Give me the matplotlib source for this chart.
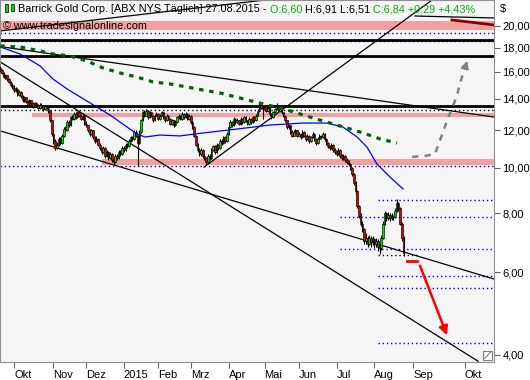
import numpy as np
import matplotlib.pyplot as plt
from matplotlib.patches import Rectangle
from matplotlib.ticker import FixedLocator, NullLocator

plt.rcParams['font.family'] = ['Liberation Sans', 'DejaVu Sans']

# daily bars, one per trading day (index 0 = 19.09.2014)
opens = [
    16.30, 16.10, 15.90, 15.55, 15.70, 15.40, 15.20, 15.00, 14.80, 14.55,
    14.70, 14.30, 14.50, 14.20, 13.90, 14.10, 13.80, 13.60, 13.90, 13.70,
    13.50, 13.70, 13.60, 13.40, 13.60, 13.50, 13.30, 13.50, 13.40, 13.20,
    12.60, 11.80, 11.40, 11.00, 11.20, 11.50, 11.30, 11.70, 12.10, 12.00,
    12.50, 12.30, 12.80, 12.70, 13.00, 12.80, 13.10, 12.90, 12.70, 12.90,
    12.40, 12.30, 12.00, 11.80, 12.00, 11.60, 11.40, 11.50, 11.20, 11.00,
    10.80, 11.00, 10.60, 10.80, 10.50, 10.70, 10.40, 10.30, 10.60, 10.50,
    10.80, 10.70, 11.00, 10.90, 11.20, 11.10, 11.40, 11.60, 11.50, 11.90,
    11.70, 11.30, 11.90, 12.60, 13.10, 12.90, 13.20, 12.80, 13.10, 12.90,
    12.60, 12.90, 13.00, 12.70, 12.90, 13.10, 12.80, 12.60, 12.90, 12.70,
    12.40, 12.60, 12.30, 12.50, 12.80, 12.90, 12.70, 13.00, 12.80, 13.00,
    12.70, 12.90, 12.50, 12.20, 11.70, 11.20, 10.90, 10.70, 10.90, 10.60,
    10.50, 10.30, 10.60, 10.50, 10.90, 11.10, 10.80, 11.20, 11.00, 11.40,
    11.30, 11.60, 11.40, 11.80, 12.20, 12.50, 12.30, 12.70, 12.50, 12.60,
    12.40, 12.70, 12.50, 12.80, 12.60, 12.40, 12.70, 12.50, 12.80, 12.60,
    12.90, 13.20, 13.60, 13.40, 13.30, 13.50, 13.20, 13.40, 13.00, 12.80,
    13.10, 13.30, 13.50, 13.20, 13.40, 13.10, 12.90, 12.60, 12.20, 12.30,
    11.90, 11.70, 11.90, 12.00, 11.70, 11.80, 11.60, 11.90, 11.70, 11.50,
    11.70, 11.40, 11.60, 11.80, 11.50, 11.30, 11.50, 11.70, 11.60, 11.80,
    11.50, 11.30, 11.10, 11.00, 11.20, 10.90, 10.80, 10.70, 10.90, 10.60,
    10.50, 10.60, 10.40, 10.30, 10.20, 10.00, 9.70, 9.30, 8.90, 8.30,
    7.90, 7.60, 7.40, 7.00, 7.10, 6.90, 7.10, 6.95, 7.05, 6.90,
    7.00, 6.80, 6.75, 7.10, 7.60, 8.00, 7.80, 7.95, 7.80, 7.90,
    7.85, 8.10, 8.40, 8.20, 7.60, 7.10,
]
highs = [
    16.45, 16.20, 16.00, 15.85, 15.75, 15.50, 15.30, 15.10, 14.95, 14.85,
    14.75, 14.60, 14.55, 14.30, 14.20, 14.15, 13.90, 14.00, 13.95, 13.80,
    13.80, 13.80, 13.65, 13.70, 13.70, 13.55, 13.60, 13.60, 13.45, 13.25,
    12.65, 11.90, 11.50, 11.35, 11.60, 11.60, 11.80, 12.20, 12.25, 12.60,
    12.60, 12.90, 12.95, 13.15, 13.10, 13.20, 13.20, 13.00, 13.00, 12.95,
    12.55, 12.35, 12.10, 12.10, 12.05, 11.70, 11.65, 11.55, 11.30, 11.05,
    11.10, 11.05, 10.90, 10.85, 10.80, 10.75, 10.50, 10.70, 10.70, 10.90,
    10.90, 11.10, 11.10, 11.30, 11.30, 11.50, 11.70, 11.70, 12.00, 12.00,
    11.75, 12.00, 12.70, 13.20, 13.25, 13.30, 13.25, 13.20, 13.15, 12.95,
    13.00, 13.15, 13.05, 13.00, 13.20, 13.15, 12.85, 13.00, 12.95, 12.75,
    12.70, 12.65, 12.60, 12.90, 13.00, 12.95, 13.10, 13.05, 13.10, 13.05,
    13.00, 12.95, 12.55, 12.25, 11.75, 11.30, 11.00, 11.00, 10.95, 10.70,
    10.55, 10.70, 10.70, 11.00, 11.20, 11.15, 11.30, 11.25, 11.50, 11.50,
    11.70, 11.70, 11.90, 12.30, 12.60, 12.55, 12.80, 12.75, 12.75, 12.65,
    12.80, 12.75, 12.90, 12.85, 12.65, 12.80, 12.75, 12.90, 12.85, 13.00,
    13.30, 13.75, 13.70, 13.50, 13.60, 13.55, 13.50, 13.45, 13.05, 13.20,
    13.40, 13.70, 13.55, 13.50, 13.45, 13.15, 12.95, 12.65, 12.40, 12.35,
    12.00, 12.00, 12.10, 12.05, 11.90, 11.85, 12.00, 11.95, 11.75, 11.80,
    11.75, 11.70, 11.90, 11.85, 11.55, 11.60, 11.80, 11.75, 11.90, 11.85,
    11.55, 11.35, 11.20, 11.30, 11.25, 11.00, 10.90, 11.00, 10.95, 10.70,
    10.70, 10.65, 10.50, 10.40, 10.25, 10.05, 9.75, 9.35, 8.95, 8.35,
    8.00, 7.70, 7.45, 7.25, 7.15, 7.20, 7.15, 7.15, 7.10, 7.10,
    7.05, 6.90, 7.20, 7.70, 8.10, 8.05, 8.05, 8.00, 8.00, 7.95,
    8.20, 8.60, 8.45, 8.25, 7.65, 7.15,
]
lows = [
    16.00, 15.80, 15.50, 15.45, 15.30, 15.10, 14.85, 14.70, 14.50, 14.45,
    14.20, 14.20, 14.05, 13.80, 13.80, 13.70, 13.50, 13.55, 13.60, 13.40,
    13.45, 13.50, 13.30, 13.35, 13.40, 13.20, 13.25, 13.30, 13.05, 12.50,
    11.70, 11.25, 10.90, 10.95, 11.10, 11.20, 11.25, 11.60, 11.90, 11.95,
    12.20, 12.25, 12.60, 12.65, 12.70, 12.75, 12.80, 12.60, 12.65, 12.30,
    12.20, 11.90, 11.70, 11.75, 11.50, 11.30, 11.35, 11.10, 10.90, 10.70,
    10.75, 10.50, 10.55, 10.40, 10.45, 10.30, 10.15, 10.25, 10.40, 10.45,
    10.60, 10.65, 10.80, 10.85, 11.00, 11.05, 11.35, 11.40, 11.45, 11.60,
    10.10, 11.25, 11.85, 12.55, 12.80, 12.85, 12.70, 12.75, 12.80, 12.50,
    12.55, 12.85, 12.60, 12.65, 12.85, 12.70, 12.50, 12.55, 12.60, 12.30,
    12.35, 12.20, 12.25, 12.45, 12.70, 12.60, 12.65, 12.70, 12.75, 12.60,
    12.65, 12.40, 12.10, 11.60, 11.10, 10.80, 10.60, 10.60, 10.50, 10.40,
    10.15, 10.25, 10.40, 10.45, 10.85, 10.70, 10.75, 10.90, 10.95, 11.20,
    11.25, 11.30, 11.35, 11.75, 12.15, 12.20, 12.25, 12.40, 12.45, 12.30,
    12.35, 12.40, 12.45, 12.50, 12.30, 12.35, 12.40, 12.45, 12.50, 12.55,
    12.85, 13.15, 13.30, 12.70, 13.20, 13.10, 13.15, 12.90, 12.70, 12.75,
    13.05, 13.25, 13.10, 13.15, 13.00, 12.80, 12.50, 12.10, 12.10, 11.80,
    11.60, 11.65, 11.80, 11.60, 11.65, 11.50, 11.55, 11.60, 11.40, 11.45,
    11.30, 11.35, 11.55, 11.40, 11.20, 11.25, 11.45, 11.50, 11.55, 11.40,
    11.20, 11.00, 10.90, 10.95, 10.80, 10.70, 10.60, 10.65, 10.50, 10.40,
    10.40, 10.30, 10.20, 10.10, 9.90, 9.60, 9.20, 8.80, 8.20, 7.80,
    7.50, 7.30, 6.90, 6.90, 6.80, 6.85, 6.80, 6.85, 6.75, 6.80,
    6.65, 6.55, 6.70, 7.05, 7.55, 7.70, 7.75, 7.70, 7.75, 7.75,
    7.80, 8.05, 8.10, 7.55, 7.00, 6.50,
]
closes = [
    16.10, 15.90, 15.60, 15.70, 15.40, 15.20, 15.00, 14.80, 14.60, 14.70,
    14.30, 14.50, 14.20, 13.90, 14.10, 13.80, 13.60, 13.90, 13.70, 13.50,
    13.70, 13.60, 13.40, 13.60, 13.50, 13.30, 13.50, 13.40, 13.20, 12.60,
    11.80, 11.40, 11.00, 11.20, 11.50, 11.30, 11.70, 12.10, 12.00, 12.50,
    12.30, 12.80, 12.70, 13.00, 12.80, 13.10, 12.90, 12.70, 12.90, 12.40,
    12.30, 12.00, 11.80, 12.00, 11.60, 11.40, 11.50, 11.20, 11.00, 10.80,
    11.00, 10.60, 10.80, 10.50, 10.70, 10.40, 10.30, 10.60, 10.50, 10.80,
    10.70, 11.00, 10.90, 11.20, 11.10, 11.40, 11.60, 11.50, 11.90, 11.70,
    11.30, 11.90, 12.60, 13.10, 12.90, 13.20, 12.80, 13.10, 12.90, 12.60,
    12.90, 13.00, 12.70, 12.90, 13.10, 12.80, 12.60, 12.90, 12.70, 12.40,
    12.60, 12.30, 12.50, 12.80, 12.90, 12.70, 13.00, 12.80, 13.00, 12.70,
    12.90, 12.50, 12.20, 11.70, 11.20, 10.90, 10.70, 10.90, 10.60, 10.50,
    10.30, 10.60, 10.50, 10.90, 11.10, 10.80, 11.20, 11.00, 11.40, 11.30,
    11.60, 11.40, 11.80, 12.20, 12.50, 12.30, 12.70, 12.50, 12.60, 12.40,
    12.70, 12.50, 12.80, 12.60, 12.40, 12.70, 12.50, 12.80, 12.60, 12.90,
    13.20, 13.60, 13.40, 13.30, 13.50, 13.20, 13.40, 13.00, 12.80, 13.10,
    13.30, 13.50, 13.20, 13.40, 13.10, 12.90, 12.60, 12.20, 12.30, 11.90,
    11.70, 11.90, 12.00, 11.70, 11.80, 11.60, 11.90, 11.70, 11.50, 11.70,
    11.40, 11.60, 11.80, 11.50, 11.30, 11.50, 11.70, 11.60, 11.80, 11.50,
    11.30, 11.10, 11.00, 11.20, 10.90, 10.80, 10.70, 10.90, 10.60, 10.50,
    10.60, 10.40, 10.30, 10.20, 10.00, 9.70, 9.30, 8.90, 8.30, 7.90,
    7.60, 7.40, 7.00, 7.10, 6.90, 7.10, 6.95, 7.05, 6.90, 7.00,
    6.80, 6.75, 7.10, 7.60, 8.00, 7.80, 7.95, 7.80, 7.90, 7.85,
    8.10, 8.40, 8.20, 7.60, 7.10, 6.60,
]

# moving averages (day index, price)
ma_blue_x = [0, 11.5, 23.2, 30.7, 38.9, 49.4, 58.1, 65.7, 73.9, 79.7, 84.3, 93.1,
             104.7, 118.1, 138.0, 157.2, 176.4, 190.4, 199.7, 207.9, 213.7, 219.5,
             227.1, 234.7]
ma_blue_y = [18.05, 17.44, 16.45, 15.43, 14.70, 13.93, 13.33, 12.81, 12.20, 11.79,
             11.62, 11.73, 11.68, 11.85, 12.08, 12.32, 12.44, 12.44, 12.20, 11.62,
             11.06, 10.18, 9.55, 9.01]
ma_green_x = [0, 11.5, 23.2, 30.7, 40.6, 50.5, 59.9, 69.8, 79.7, 89.0, 98.9, 108.8,
              118.1, 128.0, 139.7, 153.1, 163.0, 172.9, 182.2, 192.2, 202.1, 211.4,
              221.3, 231.2]
ma_green_y = [18.14, 18.05, 17.70, 17.44, 17.27, 16.85, 16.29, 15.89, 15.58, 15.21,
              15.06, 14.84, 14.62, 14.41, 14.06, 13.66, 13.39, 13.07, 12.75, 12.44,
              12.14, 11.85, 11.51, 11.28]

# horizontal levels
level_black = [18.68, 17.27, 13.52]
level_black_dot = [18.54, 13.26]
level_blue_dot = [19.33, 10.10]
target_price = [8.54, 7.86, 6.72, 5.89, 5.55, 4.24]
target_start = [220, 198, 198, 220, 220, 220]
zone_lo = [19.61, 12.81, 10.13]
zone_hi = [20.50, 13.07, 10.43]
zone_start = [0, 18.5, 59.3]

# trend lines (start index, start price, end index, end price)
trend_x0 = [0, 0, 0, 118.7, 0, 241.7]
trend_y0 = [18.08, 16.77, 11.97, 10.03, 19.52, 21.00]
trend_x1 = [287.7, 278.4, 287.7, 251.6, 154.3, 287.7]
trend_y1 = [12.81, 3.88, 5.80, 22.71, 22.71, 20.80]
# dark red line inside the top zone
red_line_x = [263.2, 287.7]
red_line_y = [20.60, 20.10]

# projections
proj_up_x = [240.0, 247.5, 253.3, 256.3, 258.6, 260.9, 263.8, 266.2, 267.9, 270.8]
proj_up_y = [10.54, 10.59, 10.69, 11.45, 12.08, 12.75, 13.52, 14.27, 15.13, 16.28]
proj_up_tip = (272.6, 17.10)
proj_down = [(237.0, 6.33), (242.9, 6.33), (244.0, 6.27), (260.9, 4.35)]

month_pos = [8, 31, 50, 72, 92, 111, 133, 154, 174, 196, 218, 240.7, 270.8]
month_labels = ['Okt', 'Nov', 'Dez', '2015', 'Feb', 'Mrz', 'Apr', 'Mai', 'Jun',
                'Jul', 'Aug', 'Sep', 'Okt']
price_ticks = [4, 6, 8, 10, 12, 14, 16, 18, 20]

W, H = 530, 380
fig = plt.figure(figsize=(W / 100, H / 100), dpi=100)
ax = fig.add_axes([0, 18 / H, 494 / W, 362 / H])
ax.set_facecolor('#f5f5f5')
ax.set_yscale('log')
XMAX = 287.7
ax.set_xlim(-0.16, XMAX)
ax.set_ylim(3.865, 22.71)

for lo, hi, s in zip(zone_lo, zone_hi, zone_start):
    ax.fill_between([s, XMAX], lo, hi, color='#f5a0a0', lw=0, zorder=1)

for p in level_black:
    ax.axhline(p, color='black', lw=2, zorder=2)
for p in level_black_dot:
    ax.axhline(p, color='black', lw=1, ls=(0, (1, 2)), zorder=2)
for p in level_blue_dot:
    ax.axhline(p, color='#0000dd', lw=1, ls=(0, (1, 2)), zorder=2)
for p, s in zip(target_price, target_start):
    ax.hlines(p, s, XMAX, color='#0000dd', lw=1, ls=(0, (1, 2)), zorder=2)
ax.hlines(6.52, 220, 243, color='black', lw=1, ls=(0, (1, 2)), zorder=2)

for x0, y0, x1, y1 in zip(trend_x0, trend_y0, trend_x1, trend_y1):
    ax.plot([x0, x1], [y0, y1], color='black', lw=0.9, zorder=2)
ax.plot(red_line_x, red_line_y, color='#8b0000', lw=2, zorder=2)

# candles
o = np.array(opens); h = np.array(highs); l = np.array(lows); c = np.array(closes)
x = np.arange(len(c))
body_col = np.where(c >= o, '#00e000', '#e00000')
ax.vlines(x, l, h, color='black', lw=0.8, zorder=4)
ax.bar(x, np.maximum(np.abs(c - o), 0.02), bottom=np.minimum(o, c), width=0.9,
       color=body_col, edgecolor='black', lw=0.45, zorder=5)

ax.plot(ma_blue_x, ma_blue_y, color='#0000ff', lw=0.9, zorder=6)
ax.plot(ma_green_x, ma_green_y, color='#006400', lw=2.3, ls=(0, (1.4, 1.8)), zorder=6)

# projection arrows
ax.plot(proj_up_x, proj_up_y, color='#808080', lw=1.8, ls=(0, (2.5, 2.5)), zorder=6)
ax.annotate('', xy=proj_up_tip, xytext=(proj_up_x[-1], proj_up_y[-1]),
            arrowprops=dict(arrowstyle='-|>', color='#808080', lw=1.5, mutation_scale=11), zorder=6)
ax.plot([proj_down[0][0], proj_down[1][0]], [proj_down[0][1], proj_down[1][1]], color='#ff0000', lw=2, zorder=6)
ax.annotate('', xy=proj_down[3], xytext=proj_down[2],
            arrowprops=dict(arrowstyle='-|>', color='#ff0000', lw=1.8, mutation_scale=13), zorder=6)

# axes
ax.yaxis.tick_right()
ax.yaxis.set_major_locator(FixedLocator(price_ticks))
ax.yaxis.set_minor_locator(NullLocator())
ax.set_yticklabels([f'{p:.2f}'.replace('.', ',') for p in price_ticks])
ax.tick_params(axis='y', length=4, width=0.8, color='#606060', labelsize=8, pad=2)
ax.set_xticks(month_pos)
ax.set_xticklabels(month_labels)
for lbl in ax.get_xticklabels():
    lbl.set_ha('left')
ax.tick_params(axis='x', length=4, width=0.8, color='#606060', labelsize=8, pad=2)
for sp in ax.spines.values():
    sp.set_color('#909090')

ax.add_patch(Rectangle((0.978, 0.006), 0.018, 0.025, transform=ax.transAxes,
                       facecolor='white', edgecolor='#808080', lw=0.8, zorder=8))
ax.plot([0.981, 0.993], [0.010, 0.027], transform=ax.transAxes, color='#808080', lw=0.8, zorder=9)

fig.text(500 / W, 1 - 9 / H, '$', fontsize=8, va='center')

# header
fig.add_artist(Rectangle((5 / W, 1 - 12 / H), 3 / W, 8 / H, transform=fig.transFigure,
                         facecolor='#00e000', edgecolor='black', lw=0.5))
fig.add_artist(Rectangle((11 / W, 1 - 11 / H), 3 / W, 7 / H, transform=fig.transFigure,
                         facecolor='#00e000', edgecolor='black', lw=0.5))
r = fig.canvas.get_renderer()
hx = 18
parts = [('Barrick Gold Corp. [ABX NYS Täglich] 27.08.2015 - ', 'black'),
         ('O:6,60 ', '#00b000'), ('H:6,91 L:6,51 ', 'black'),
         ('C:6,84 +0,29 +4,43%', '#00b000')]
for s, col in parts:
    t = fig.text(hx / W, 1 - 9 / H, s, color=col, fontsize=7.8, va='center', ha='left')
    hx += t.get_window_extent(renderer=r).width
fig.text(3 / W, 1 - 26 / H, '© www.tradesignalonline.com', fontsize=7.8, va='center', ha='left')

fig.savefig('out.png', dpi=100)
